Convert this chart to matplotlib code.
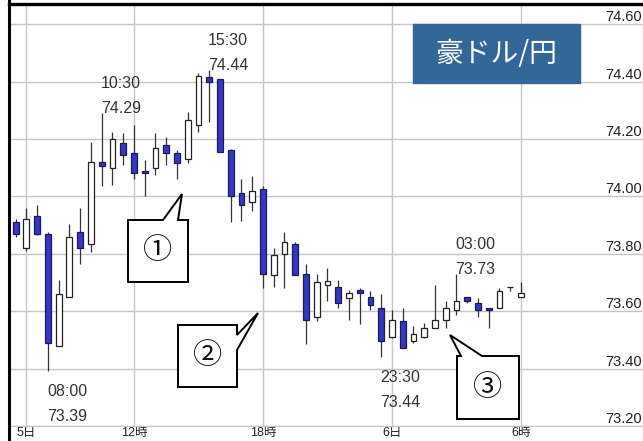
import matplotlib
matplotlib.use('Agg')
import matplotlib.pyplot as plt
import matplotlib.transforms as mtransforms
from matplotlib.patches import Polygon, Rectangle
from matplotlib.lines import Line2D
import numpy as np
import pandas as pd

plt.rcParams['font.family'] = ['Liberation Sans', 'Noto Sans CJK JP', 'DejaVu Sans']

# 豪ドル/円 30分足 (5日 06:30 〜 6日 06:00)
times = pd.date_range('2017-01-05 06:30', periods=48, freq='30min')
opens = [73.91, 73.82, 73.93, 73.87, 73.48, 73.65, 73.875, 73.835, 74.12, 74.10,
         74.185, 74.15, 74.09, 74.10, 74.18, 74.15, 74.13, 74.25, 74.415, 74.41,
         74.16, 74.01, 73.98, 74.025, 73.725, 73.80, 73.835, 73.73, 73.58, 73.69,
         73.685, 73.645, 73.675, 73.65, 73.61, 73.51, 73.565, 73.495, 73.51, 73.54,
         73.57, 73.605, 73.65, 73.63, 73.61, 73.61, 73.685, 73.65]
highs = [73.92, 73.96, 73.97, 73.875, 73.71, 73.905, 73.96, 74.19, 74.29, 74.225,
         74.22, 74.25, 74.125, 74.22, 74.205, 74.16, 74.295, 74.43, 74.44, 74.41,
         74.165, 74.06, 74.07, 74.035, 73.82, 73.875, 73.84, 73.765, 73.73, 73.75,
         73.71, 73.675, 73.68, 73.67, 73.66, 73.605, 73.61, 73.55, 73.56, 73.69,
         73.635, 73.73, 73.65, 73.645, 73.61, 73.68, 73.685, 73.70]
lows = [73.86, 73.81, 73.865, 73.39, 73.48, 73.65, 73.765, 73.805, 74.035, 74.04,
        74.11, 74.06, 74.00, 74.075, 74.11, 74.06, 74.115, 74.225, 74.26, 74.155,
        73.91, 73.915, 73.95, 73.68, 73.685, 73.68, 73.725, 73.485, 73.565, 73.635,
        73.61, 73.57, 73.555, 73.605, 73.44, 73.505, 73.47, 73.49, 73.505, 73.54,
        73.54, 73.585, 73.63, 73.58, 73.54, 73.61, 73.67, 73.65]
closes = [73.87, 73.92, 73.87, 73.49, 73.66, 73.86, 73.82, 74.12, 74.105, 74.20,
          74.145, 74.08, 74.08, 74.17, 74.15, 74.115, 74.265, 74.42, 74.40, 74.155,
          74.00, 73.97, 74.02, 73.73, 73.795, 73.84, 73.725, 73.57, 73.70, 73.705,
          73.63, 73.665, 73.665, 73.62, 73.495, 73.57, 73.47, 73.52, 73.54, 73.57,
          73.61, 73.635, 73.635, 73.605, 73.605, 73.67, 73.685, 73.665]

tick_times = pd.to_datetime(['2017-01-05 07:00', '2017-01-05 12:00', '2017-01-05 18:00',
                             '2017-01-06 00:00', '2017-01-06 06:00'])
tick_labels = ['5日', '12時', '18時', '6日', '6時']
price_ticks = [73.20, 73.40, 73.60, 73.80, 74.00, 74.20, 74.40, 74.60]

# 高値・安値の注記
anno_idx = [3, 8, 18, 34, 41]
anno_side = ['low', 'high', 'high', 'low', 'high']

W, H = 643, 441
fig = plt.figure(figsize=(W / 100, H / 100), dpi=100)
ax = fig.add_axes([8.5 / W, 1 - 426 / H, 1 - 8.5 / W, (426 - 4) / H])

x = np.arange(len(times))
o = np.array(opens)
c = np.array(closes)
up = c >= o

# ヒゲ
ax.vlines(x, lows, highs, color='#333333', lw=0.9, zorder=2)
# 実体
bottom = np.minimum(o, c)
height = np.maximum(np.abs(c - o), 0.005)
height[np.abs(c - o) < 0.001] = 0
ax.bar(x[up], height[up], bottom=bottom[up], width=0.55,
       color='white', edgecolor='#222222', lw=0.9, zorder=3)
ax.bar(x[~up], height[~up], bottom=bottom[~up], width=0.55,
       color='#3636c4', edgecolor='#1c1c55', lw=0.9, zorder=3)

ax.set_xlim(-0.67, 58.35)
ax.set_ylim(73.20, 74.67)

tick_idx = [list(times).index(t) for t in tick_times]
ax.set_xticks(tick_idx)
ax.set_xticklabels(tick_labels, fontsize=9, color='#222222')
ax.set_yticks(price_ticks)
ax.set_yticklabels([])
ax.tick_params(length=0, pad=0.5)
ax.grid(True, color='#c6c6c6', lw=1.0, zorder=0)

for p in price_ticks:
    ax.text(0.941, p, f'{p:.2f}', transform=ax.get_yaxis_transform(),
            ha='left', va='bottom', fontsize=10.5, color='#222222')

for s in ['right', 'left']:
    ax.spines[s].set_visible(False)
ax.spines['bottom'].set_color('#c6c6c6')
ax.spines['top'].set_linewidth(2.4)
ax.spines['top'].set_color('black')

# 注記テキスト
for i, side in zip(anno_idx, anno_side):
    t = times[i].strftime('%H:%M')
    if side == 'high':
        val = highs[i]
        ax.annotate(f'{val:.2f}', (i, val), xytext=(-0.7, 0), textcoords='offset points',
                    va='baseline', ha='left', fontsize=11.5, color='#333333')
        ax.annotate(t, (i, val), xytext=(-0.7, 18), textcoords='offset points',
                    va='baseline', ha='left', fontsize=11.5, color='#333333')
    else:
        val = lows[i]
        ax.annotate(t, (i, val), xytext=(-0.7, -18), textcoords='offset points',
                    va='baseline', ha='left', fontsize=11.5, color='#333333')
        ax.annotate(f'{val:.2f}', (i, val), xytext=(-0.7, -36), textcoords='offset points',
                    va='baseline', ha='left', fontsize=11.5, color='#333333')

# ピクセル座標 (左上原点)
px = mtransforms.Affine2D().scale(1 / W, -1 / H).translate(0, 1) + fig.transFigure

fig.add_artist(Line2D([8.5, 8.5], [0, 441], transform=px, color='black', lw=2.2))

# タイトルボックス
fig.add_artist(Rectangle((413, 24), 167, 59, transform=px, color='#336699', zorder=5))
fig.text(496.5, 54, '豪ドル/円', transform=px, ha='center', va='center',
         fontsize=20, color='white', family='Noto Sans CJK JP', zorder=6)

# 吹き出し
callouts = [
    ([(128, 220), (163, 220), (182, 194), (178, 220), (188, 220), (188, 282), (128, 282)],
     (158, 251), '①'),
    ([(178, 325), (237, 325), (237, 335), (258, 313), (237, 350), (237, 387), (178, 387)],
     (207.5, 356), '②'),
    ([(457, 356), (461, 356), (450, 335), (482, 356), (519, 356), (519, 419), (457, 419)],
     (488, 387.5), '③'),
]
for verts, center, label in callouts:
    fig.add_artist(Polygon(verts, closed=True, transform=px, facecolor='white',
                           edgecolor='black', lw=1.4, zorder=5))
    fig.text(center[0], center[1], label, transform=px, ha='center', va='center',
             fontsize=21, color='#111111', family='Noto Sans CJK JP', zorder=6)

fig.savefig('out.png', dpi=100, facecolor='white')
